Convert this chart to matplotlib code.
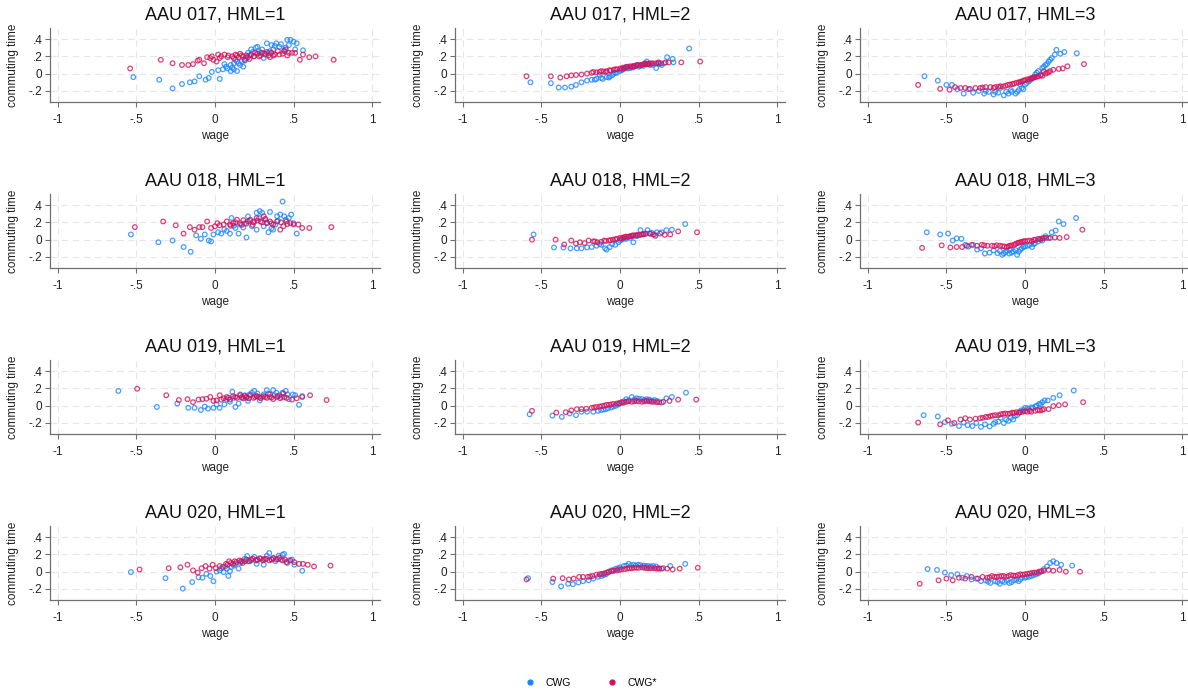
import numpy as np
import matplotlib.pyplot as plt
from matplotlib.lines import Line2D

plt.rcParams['font.family'] = ['Liberation Sans', 'DejaVu Sans']

# (wage, commuting time) pairs for each AAU / HML cell
aau017_h1_cwg = [(-0.52, -0.04), (-0.355, -0.07), (-0.27, -0.17), (-0.21, -0.12), (-0.16, -0.10), (-0.13, -0.09),
                 (-0.10, -0.03), (-0.06, -0.07), (-0.04, -0.05), (-0.02, 0.02), (0.02, 0.04), (0.03, -0.06),
                 (0.05, 0.05), (0.07, 0.08), (0.10, 0.10), (0.10, 0.03), (0.12, 0.05), (0.12, 0.12), (0.14, 0.03),
                 (0.14, 0.14), (0.16, 0.10), (0.17, 0.14), (0.18, 0.08), (0.20, 0.18), (0.21, 0.24), (0.23, 0.28),
                 (0.245, 0.20), (0.26, 0.30), (0.27, 0.31), (0.28, 0.26), (0.29, 0.24), (0.31, 0.18), (0.33, 0.35),
                 (0.34, 0.24), (0.36, 0.33), (0.37, 0.28), (0.39, 0.35), (0.41, 0.31), (0.44, 0.27), (0.45, 0.30),
                 (0.46, 0.39), (0.48, 0.39), (0.50, 0.37), (0.51, 0.28), (0.52, 0.35), (0.56, 0.27),
                 (0.08, 0.06), (0.11, 0.07), (0.15, 0.12), (0.19, 0.15), (0.22, 0.21), (0.24, 0.25), (0.30, 0.28),
                 (0.32, 0.22), (0.35, 0.26), (0.38, 0.32), (0.42, 0.34), (0.47, 0.33), (0.06, 0.11), (0.13, 0.16)]
aau017_h1_star = [(-0.54, 0.06), (-0.345, 0.16), (-0.27, 0.12), (-0.21, 0.10), (-0.17, 0.10), (-0.14, 0.11),
                  (-0.11, 0.15), (-0.10, 0.16), (-0.07, 0.12), (-0.05, 0.19), (-0.03, 0.18), (-0.01, 0.16),
                  (0.01, 0.14), (0.02, 0.22), (0.04, 0.20), (0.06, 0.22), (0.085, 0.21), (0.11, 0.20), (0.13, 0.22),
                  (0.15, 0.19), (0.17, 0.21), (0.19, 0.16), (0.21, 0.19), (0.23, 0.22), (0.255, 0.24), (0.28, 0.20),
                  (0.30, 0.24), (0.32, 0.23), (0.34, 0.21), (0.36, 0.24), (0.38, 0.22), (0.40, 0.26), (0.43, 0.23),
                  (0.45, 0.28), (0.47, 0.24), (0.49, 0.24), (0.51, 0.24), (0.54, 0.16), (0.56, 0.22), (0.60, 0.19),
                  (0.64, 0.20), (0.755, 0.16),
                  (0.08, 0.19), (0.12, 0.18), (0.16, 0.23), (0.20, 0.21), (0.22, 0.17), (0.25, 0.20), (0.27, 0.23),
                  (0.29, 0.21), (0.33, 0.25), (0.35, 0.19), (0.37, 0.21), (0.41, 0.22), (0.44, 0.26), (0.46, 0.21),
                  (0.03, 0.18), (-0.02, 0.20), (0.14, 0.21), (0.18, 0.20)]

aau017_h2_cwg = [(-0.57, -0.10), (-0.44, -0.11), (-0.39, -0.16), (-0.35, -0.16), (-0.31, -0.15), (-0.28, -0.13),
                 (-0.245, -0.10), (-0.21, -0.08), (-0.18, -0.07), (-0.15, -0.06), (-0.13, -0.01), (-0.12, -0.05),
                 (-0.085, -0.04), (-0.065, -0.03), (-0.04, 0.0), (-0.02, 0.01), (0.0, 0.03), (0.02, 0.05),
                 (0.04, 0.08), (0.065, 0.065), (0.085, 0.08), (0.105, 0.10), (0.13, 0.09), (0.16, 0.12),
                 (0.17, 0.14), (0.19, 0.10), (0.23, 0.065), (0.245, 0.12), (0.265, 0.10), (0.30, 0.19),
                 (0.335, 0.17), (0.34, 0.13), (0.44, 0.29),
                 (-0.16, -0.07), (-0.11, -0.06), (-0.07, -0.045), (-0.05, -0.02), (-0.03, 0.01), (0.01, 0.04),
                 (0.03, 0.06), (0.05, 0.06), (0.08, 0.07), (0.12, 0.08), (0.15, 0.09), (0.18, 0.11), (0.21, 0.10),
                 (0.25, 0.11), (0.28, 0.12)]
aau017_h2_star = [(-0.595, -0.03), (-0.44, -0.03), (-0.38, -0.045), (-0.34, -0.03), (-0.31, -0.02), (-0.28, -0.015),
                  (-0.245, -0.01), (-0.21, 0.0), (-0.18, 0.01), (-0.15, 0.015), (-0.13, 0.02), (-0.105, 0.025),
                  (-0.085, 0.03), (-0.065, 0.04), (-0.04, 0.045), (-0.02, 0.05), (0.0, 0.06), (0.02, 0.07),
                  (0.04, 0.075), (0.065, 0.085), (0.085, 0.09), (0.105, 0.095), (0.13, 0.10), (0.15, 0.11),
                  (0.17, 0.115), (0.19, 0.12), (0.21, 0.12), (0.245, 0.13), (0.29, 0.13), (0.31, 0.13),
                  (0.39, 0.13), (0.51, 0.14),
                  (-0.17, 0.02), (-0.12, 0.03), (-0.09, 0.02), (-0.06, 0.035), (-0.03, 0.05), (0.01, 0.055),
                  (0.03, 0.065), (0.05, 0.08), (0.075, 0.08), (0.095, 0.085), (0.115, 0.10), (0.14, 0.10),
                  (0.16, 0.11), (0.18, 0.11), (0.20, 0.115), (0.23, 0.12), (0.26, 0.12)]

aau017_h3_cwg = [(-0.64, -0.03), (-0.555, -0.08), (-0.50, -0.13), (-0.465, -0.13), (-0.43, -0.18), (-0.39, -0.23),
                 (-0.36, -0.18), (-0.33, -0.22), (-0.295, -0.20), (-0.26, -0.23), (-0.23, -0.21), (-0.20, -0.24),
                 (-0.17, -0.22), (-0.16, -0.165), (-0.135, -0.25), (-0.105, -0.23), (-0.085, -0.21), (-0.06, -0.23),
                 (-0.04, -0.19), (-0.03, -0.125), (-0.02, -0.165), (-0.01, -0.18), (0.0, -0.125), (0.025, -0.09),
                 (0.045, -0.06), (0.065, -0.01), (0.085, 0.03), (0.10, -0.01), (0.11, 0.065), (0.13, 0.10),
                 (0.15, 0.14), (0.17, 0.18), (0.19, 0.22), (0.20, 0.275), (0.225, 0.23), (0.25, 0.25), (0.33, 0.235),
                 (-0.25, -0.20), (-0.19, -0.21), (-0.12, -0.21), (-0.09, -0.19), (-0.05, -0.21), (0.01, -0.11),
                 (0.035, -0.07), (0.055, -0.04), (0.075, 0.01), (0.12, 0.08), (0.14, 0.11), (0.16, 0.16)]
aau017_h3_star = [(-0.68, -0.13), (-0.54, -0.175), (-0.48, -0.185), (-0.445, -0.155), (-0.41, -0.165),
                  (-0.38, -0.165), (-0.35, -0.175), (-0.315, -0.165), (-0.285, -0.165), (-0.25, -0.155),
                  (-0.22, -0.155), (-0.19, -0.155), (-0.155, -0.145), (-0.125, -0.14), (-0.095, -0.125),
                  (-0.07, -0.115), (-0.04, -0.10), (-0.02, -0.09), (0.0, -0.075), (0.025, -0.07), (0.045, -0.05),
                  (0.065, -0.04), (0.085, -0.03), (0.11, -0.025), (0.12, 0.025), (0.13, 0.0), (0.15, 0.015),
                  (0.18, 0.045), (0.215, 0.055), (0.24, 0.06), (0.27, 0.085), (0.375, 0.11),
                  (-0.27, -0.16), (-0.20, -0.165), (-0.17, -0.15), (-0.14, -0.15), (-0.11, -0.13), (-0.08, -0.12),
                  (-0.055, -0.105), (-0.03, -0.095), (-0.01, -0.08), (0.015, -0.065), (0.035, -0.055),
                  (0.055, -0.045), (0.075, -0.035), (0.10, -0.02), (0.14, 0.01), (0.16, 0.03)]

aau018_h1_cwg = [(-0.535, 0.06), (-0.36, -0.03), (-0.27, -0.01), (-0.20, -0.085), (-0.155, -0.14), (-0.12, 0.05),
                 (-0.09, 0.01), (-0.065, 0.06), (-0.04, -0.01), (-0.025, -0.02), (-0.01, 0.06), (0.02, 0.085),
                 (0.04, 0.07), (0.075, 0.10), (0.095, 0.07), (0.105, 0.25), (0.13, 0.135), (0.15, 0.07),
                 (0.16, 0.175), (0.19, 0.19), (0.20, 0.025), (0.21, 0.27), (0.235, 0.155), (0.25, 0.21),
                 (0.265, 0.115), (0.265, 0.31), (0.285, 0.33), (0.30, 0.31), (0.31, 0.155), (0.32, 0.23),
                 (0.34, 0.085), (0.35, 0.32), (0.37, 0.115), (0.385, 0.175), (0.395, 0.27), (0.415, 0.29),
                 (0.43, 0.44), (0.45, 0.23), (0.47, 0.25), (0.485, 0.29), (0.50, 0.19), (0.52, 0.07),
                 (0.06, 0.12), (0.12, 0.16), (0.18, 0.14), (0.22, 0.22), (0.28, 0.25), (0.33, 0.20), (0.36, 0.13),
                 (0.40, 0.22), (0.44, 0.27)]
aau018_h1_star = [(-0.51, 0.145), (-0.33, 0.21), (-0.25, 0.165), (-0.20, 0.07), (-0.16, 0.145), (-0.13, 0.115),
                  (-0.10, 0.145), (-0.08, 0.145), (-0.05, 0.21), (-0.025, 0.135), (0.0, 0.155), (0.015, 0.19),
                  (0.03, 0.165), (0.055, 0.175), (0.075, 0.21), (0.095, 0.175), (0.115, 0.19), (0.14, 0.23),
                  (0.16, 0.19), (0.18, 0.225), (0.20, 0.185), (0.225, 0.23), (0.245, 0.20), (0.265, 0.25),
                  (0.29, 0.21), (0.31, 0.27), (0.33, 0.19), (0.35, 0.21), (0.37, 0.175), (0.395, 0.21),
                  (0.415, 0.115), (0.435, 0.155), (0.455, 0.21), (0.48, 0.19), (0.50, 0.175), (0.53, 0.175),
                  (0.555, 0.135), (0.60, 0.135), (0.74, 0.145),
                  (0.10, 0.16), (0.13, 0.20), (0.17, 0.17), (0.21, 0.21), (0.24, 0.17), (0.27, 0.22), (0.30, 0.20),
                  (0.32, 0.24), (0.36, 0.19), (0.42, 0.20), (0.46, 0.18)]

aau018_h2_cwg = [(-0.55, 0.06), (-0.42, -0.09), (-0.36, -0.09), (-0.315, -0.10), (-0.275, -0.10), (-0.245, -0.10),
                 (-0.21, -0.09), (-0.18, -0.085), (-0.15, -0.07), (-0.12, -0.06), (-0.095, -0.10), (-0.085, -0.115),
                 (-0.065, -0.085), (-0.03, -0.06), (-0.01, -0.03), (0.01, 0.0), (0.04, 0.01), (0.065, 0.02),
                 (0.085, -0.03), (0.105, 0.04), (0.13, 0.11), (0.16, 0.07), (0.175, 0.11), (0.20, 0.08),
                 (0.235, 0.085), (0.265, 0.085), (0.295, 0.11), (0.33, 0.115), (0.415, 0.18),
                 (-0.13, -0.05), (-0.05, -0.05), (0.0, -0.01), (0.025, 0.01), (0.05, 0.03), (0.08, 0.04),
                 (0.12, 0.05), (0.15, 0.06), (0.19, 0.07), (0.22, 0.06)]
aau018_h2_star = [(-0.56, 0.0), (-0.41, 0.0), (-0.355, -0.055), (-0.31, -0.01), (-0.28, -0.045), (-0.255, -0.03),
                  (-0.225, -0.04), (-0.20, -0.01), (-0.17, -0.02), (-0.145, -0.03), (-0.12, -0.025), (-0.09, -0.015),
                  (-0.07, -0.01), (-0.045, 0.0), (-0.02, 0.01), (0.0, 0.02), (0.02, 0.025), (0.04, 0.035),
                  (0.065, 0.04), (0.085, 0.05), (0.11, 0.055), (0.14, 0.06), (0.165, 0.07), (0.19, 0.07),
                  (0.225, 0.045), (0.255, 0.07), (0.285, 0.055), (0.32, 0.06), (0.37, 0.095), (0.49, 0.085),
                  (-0.16, -0.02), (-0.10, -0.01), (-0.06, -0.005), (-0.03, 0.005), (0.01, 0.015), (0.03, 0.03),
                  (0.055, 0.035), (0.075, 0.045), (0.10, 0.05), (0.125, 0.055), (0.15, 0.065), (0.21, 0.06)]

aau018_h3_cwg = [(-0.625, 0.085), (-0.54, 0.06), (-0.49, 0.07), (-0.46, -0.01), (-0.435, 0.015), (-0.405, 0.01),
                 (-0.38, -0.06), (-0.36, -0.08), (-0.33, -0.06), (-0.305, -0.115), (-0.28, -0.10), (-0.255, -0.16),
                 (-0.225, -0.15), (-0.20, -0.125), (-0.175, -0.155), (-0.145, -0.175), (-0.125, -0.145),
                 (-0.10, -0.16), (-0.095, -0.115), (-0.075, -0.135), (-0.05, -0.175), (-0.03, -0.115),
                 (-0.01, -0.085), (0.015, -0.07), (0.045, -0.085), (0.065, -0.04), (0.085, -0.02), (0.11, -0.01),
                 (0.13, 0.04), (0.15, 0.02), (0.17, 0.085), (0.195, 0.105), (0.215, 0.21), (0.245, 0.18),
                 (0.325, 0.25),
                 (-0.16, -0.13), (-0.135, -0.16), (-0.115, -0.13), (-0.085, -0.15), (-0.06, -0.12),
                 (-0.04, -0.14), (-0.02, -0.10), (0.0, -0.08), (0.03, -0.06), (0.055, -0.05), (0.10, 0.0)]
aau018_h3_star = [(-0.655, -0.095), (-0.53, -0.065), (-0.475, -0.09), (-0.435, -0.085), (-0.40, -0.085),
                  (-0.37, -0.07), (-0.34, -0.06), (-0.305, -0.07), (-0.275, -0.06), (-0.24, -0.07), (-0.21, -0.07),
                  (-0.18, -0.065), (-0.145, -0.075), (-0.115, -0.085), (-0.095, -0.07), (-0.07, -0.06),
                  (-0.05, -0.04), (-0.03, -0.03), (-0.01, -0.02), (0.015, -0.015), (0.045, -0.02), (0.065, 0.0),
                  (0.085, 0.01), (0.11, 0.015), (0.135, 0.02), (0.16, 0.02), (0.19, 0.025), (0.22, 0.02),
                  (0.265, 0.03), (0.365, 0.115),
                  (-0.26, -0.065), (-0.195, -0.075), (-0.16, -0.07), (-0.13, -0.08), (-0.105, -0.075),
                  (-0.085, -0.065), (-0.06, -0.05), (-0.04, -0.035), (-0.02, -0.025), (0.0, -0.015), (0.03, -0.01),
                  (0.055, -0.005), (0.095, 0.005), (0.12, 0.02)]

aau019_h1_cwg = [(-0.615, 0.17), (-0.37, -0.015), (-0.24, 0.025), (-0.17, -0.025), (-0.13, -0.025), (-0.09, -0.05),
                 (-0.065, -0.01), (-0.045, -0.035), (-0.01, -0.025), (0.01, 0.015), (0.03, -0.025), (0.06, 0.015),
                 (0.075, 0.07), (0.095, 0.045), (0.11, 0.16), (0.13, -0.015), (0.15, 0.025), (0.17, 0.09),
                 (0.19, 0.12), (0.21, 0.055), (0.235, 0.15), (0.25, 0.17), (0.265, 0.11), (0.285, 0.06),
                 (0.31, 0.13), (0.33, 0.18), (0.35, 0.10), (0.37, 0.18), (0.39, 0.15), (0.41, 0.12), (0.43, 0.15),
                 (0.45, 0.17), (0.47, 0.075), (0.495, 0.13), (0.51, 0.12), (0.535, 0.01), (0.555, 0.11),
                 (0.12, 0.09), (0.16, 0.13), (0.20, 0.09), (0.22, 0.13), (0.27, 0.14), (0.30, 0.10), (0.34, 0.14),
                 (0.38, 0.12), (0.42, 0.10), (0.46, 0.13)]
aau019_h1_star = [(-0.495, 0.195), (-0.31, 0.12), (-0.23, 0.065), (-0.175, 0.075), (-0.14, 0.04), (-0.105, 0.07),
                  (-0.08, 0.075), (-0.055, 0.08), (-0.03, 0.10), (-0.01, 0.055), (0.01, 0.06), (0.03, 0.12),
                  (0.055, 0.085), (0.075, 0.10), (0.095, 0.07), (0.115, 0.11), (0.14, 0.09), (0.16, 0.12),
                  (0.18, 0.085), (0.20, 0.10), (0.225, 0.12), (0.245, 0.09), (0.265, 0.11), (0.29, 0.085),
                  (0.31, 0.11), (0.33, 0.09), (0.35, 0.13), (0.37, 0.075), (0.395, 0.10), (0.415, 0.085),
                  (0.435, 0.14), (0.455, 0.09), (0.49, 0.07), (0.52, 0.085), (0.555, 0.10), (0.605, 0.12),
                  (0.71, 0.065),
                  (0.04, 0.07), (0.085, 0.09), (0.13, 0.10), (0.17, 0.10), (0.19, 0.11), (0.215, 0.085),
                  (0.255, 0.10), (0.28, 0.10), (0.32, 0.10), (0.36, 0.095), (0.40, 0.11), (0.44, 0.10)]

aau019_h2_cwg = [(-0.575, -0.10), (-0.43, -0.115), (-0.37, -0.13), (-0.32, -0.09), (-0.28, -0.11), (-0.245, -0.07),
                 (-0.21, -0.07), (-0.17, -0.07), (-0.14, -0.06), (-0.105, -0.045), (-0.075, -0.03), (-0.04, -0.01),
                 (-0.01, 0.015), (0.015, 0.035), (0.04, 0.075), (0.075, 0.10), (0.105, 0.085), (0.14, 0.075),
                 (0.17, 0.075), (0.20, 0.06), (0.235, 0.055), (0.265, 0.035), (0.295, 0.085), (0.33, 0.10),
                 (0.42, 0.15),
                 (-0.12, -0.05), (-0.09, -0.04), (-0.055, -0.02), (-0.025, 0.0), (0.0, 0.025), (0.025, 0.05),
                 (0.055, 0.06), (0.09, 0.07), (0.12, 0.08), (0.155, 0.065), (0.185, 0.07), (0.22, 0.065)]
aau019_h2_star = [(-0.56, -0.06), (-0.405, -0.08), (-0.345, -0.075), (-0.31, -0.055), (-0.275, -0.04),
                  (-0.245, -0.04), (-0.215, -0.035), (-0.18, -0.025), (-0.15, -0.015), (-0.115, -0.005),
                  (-0.085, 0.01), (-0.055, 0.015), (-0.02, 0.025), (0.01, 0.04), (0.04, 0.045), (0.075, 0.045),
                  (0.105, 0.055), (0.14, 0.045), (0.17, 0.055), (0.20, 0.045), (0.235, 0.04), (0.275, 0.045),
                  (0.315, 0.055), (0.37, 0.07), (0.485, 0.07),
                  (-0.165, -0.02), (-0.13, -0.01), (-0.10, 0.0), (-0.07, 0.01), (-0.04, 0.02), (-0.005, 0.03),
                  (0.025, 0.035), (0.055, 0.05), (0.09, 0.05), (0.12, 0.05), (0.155, 0.05), (0.185, 0.05),
                  (0.215, 0.045), (0.25, 0.04)]

aau019_h3_cwg = [(-0.645, -0.11), (-0.555, -0.125), (-0.51, -0.19), (-0.465, -0.21), (-0.42, -0.235), (-0.39, -0.195),
                 (-0.365, -0.225), (-0.335, -0.235), (-0.31, -0.20), (-0.28, -0.245), (-0.255, -0.215),
                 (-0.225, -0.24), (-0.20, -0.21), (-0.17, -0.185), (-0.155, -0.14), (-0.135, -0.20),
                 (-0.105, -0.175), (-0.075, -0.16), (-0.05, -0.11), (-0.025, -0.055), (0.0, -0.025),
                 (0.025, -0.04), (0.05, -0.025), (0.075, 0.0), (0.10, 0.015), (0.125, 0.06), (0.145, 0.06),
                 (0.18, 0.09), (0.22, 0.12), (0.31, 0.175),
                 (-0.19, -0.19), (-0.12, -0.16), (-0.09, -0.14), (-0.065, -0.12), (-0.035, -0.08), (-0.01, -0.05),
                 (0.015, -0.03), (0.04, -0.02), (0.065, -0.01), (0.09, 0.02), (0.11, 0.04)]
aau019_h3_star = [(-0.68, -0.195), (-0.54, -0.215), (-0.49, -0.17), (-0.45, -0.20), (-0.41, -0.16), (-0.38, -0.145),
                  (-0.35, -0.16), (-0.315, -0.15), (-0.285, -0.145), (-0.25, -0.13), (-0.22, -0.12), (-0.19, -0.11),
                  (-0.155, -0.10), (-0.125, -0.09), (-0.095, -0.09), (-0.07, -0.085), (-0.04, -0.08),
                  (-0.015, -0.07), (0.015, -0.07), (0.04, -0.07), (0.065, -0.06), (0.095, -0.055), (0.12, -0.04),
                  (0.15, -0.04), (0.18, -0.005), (0.215, 0.005), (0.255, 0.015), (0.37, 0.04),
                  (-0.27, -0.14), (-0.235, -0.13), (-0.205, -0.115), (-0.17, -0.11), (-0.14, -0.095),
                  (-0.11, -0.095), (-0.08, -0.08), (-0.055, -0.075), (-0.03, -0.075), (0.0, -0.065),
                  (0.03, -0.06), (0.08, -0.05), (0.11, -0.05)]

aau020_h1_cwg = [(-0.535, -0.005), (-0.315, -0.075), (-0.205, -0.195), (-0.145, -0.12), (-0.105, -0.065),
                 (-0.08, -0.07), (-0.055, -0.025), (-0.03, -0.05), (-0.01, -0.11), (0.01, 0.0), (0.03, 0.015),
                 (0.055, -0.005), (0.075, 0.035), (0.085, -0.05), (0.095, 0.005), (0.105, 0.055), (0.13, 0.09),
                 (0.15, 0.035), (0.17, 0.12), (0.19, 0.15), (0.205, 0.18), (0.23, 0.13), (0.25, 0.17),
                 (0.265, 0.09), (0.29, 0.15), (0.31, 0.08), (0.33, 0.185), (0.345, 0.215), (0.36, 0.14),
                 (0.385, 0.12), (0.405, 0.185), (0.43, 0.195), (0.44, 0.205), (0.46, 0.10), (0.49, 0.14),
                 (0.505, 0.08), (0.555, 0.01),
                 (0.04, 0.04), (0.065, 0.06), (0.12, 0.07), (0.16, 0.10), (0.21, 0.12), (0.27, 0.13),
                 (0.32, 0.14), (0.37, 0.16), (0.42, 0.14), (0.47, 0.13)]
aau020_h1_star = [(-0.48, 0.025), (-0.295, 0.04), (-0.22, 0.05), (-0.175, 0.08), (-0.14, 0.015), (-0.11, -0.01),
                  (-0.085, 0.04), (-0.06, 0.065), (-0.035, 0.035), (-0.015, 0.08), (0.005, 0.04), (0.03, 0.065),
                  (0.05, 0.055), (0.07, 0.09), (0.09, 0.12), (0.115, 0.09), (0.135, 0.11), (0.155, 0.13),
                  (0.175, 0.10), (0.20, 0.14), (0.22, 0.12), (0.24, 0.15), (0.26, 0.13), (0.285, 0.155),
                  (0.305, 0.13), (0.325, 0.15), (0.345, 0.13), (0.37, 0.155), (0.39, 0.14), (0.41, 0.16),
                  (0.43, 0.13), (0.455, 0.11), (0.48, 0.13), (0.505, 0.11), (0.535, 0.09), (0.56, 0.09),
                  (0.59, 0.08), (0.63, 0.06), (0.735, 0.07),
                  (0.08, 0.08), (0.10, 0.10), (0.125, 0.12), (0.165, 0.12), (0.19, 0.12), (0.23, 0.14),
                  (0.27, 0.14), (0.31, 0.145), (0.36, 0.14), (0.40, 0.145), (0.445, 0.14)]

aau020_h2_cwg = [(-0.585, -0.075), (-0.43, -0.12), (-0.375, -0.17), (-0.33, -0.14), (-0.30, -0.145),
                 (-0.265, -0.125), (-0.235, -0.11), (-0.20, -0.10), (-0.17, -0.08), (-0.14, -0.06),
                 (-0.105, -0.04), (-0.075, -0.01), (-0.055, 0.015), (-0.025, 0.035), (0.0, 0.05), (0.025, 0.065),
                 (0.055, 0.09), (0.085, 0.08), (0.115, 0.08), (0.15, 0.07), (0.18, 0.065), (0.21, 0.065),
                 (0.245, 0.04), (0.275, 0.04), (0.32, 0.065), (0.415, 0.09),
                 (-0.12, -0.05), (-0.09, -0.03), (-0.04, 0.02), (-0.01, 0.04), (0.04, 0.07), (0.07, 0.07),
                 (0.10, 0.07), (0.13, 0.075), (0.165, 0.065), (0.195, 0.06), (0.23, 0.06)]
aau020_h2_star = [(-0.595, -0.09), (-0.425, -0.08), (-0.365, -0.075), (-0.325, -0.09), (-0.295, -0.08),
                  (-0.26, -0.06), (-0.235, -0.06), (-0.205, -0.06), (-0.175, -0.05), (-0.15, -0.035),
                  (-0.115, -0.025), (-0.085, -0.01), (-0.055, 0.005), (-0.02, 0.015), (0.01, 0.025),
                  (0.045, 0.035), (0.075, 0.04), (0.105, 0.045), (0.14, 0.05), (0.17, 0.04), (0.20, 0.04),
                  (0.235, 0.035), (0.265, 0.035), (0.30, 0.035), (0.335, 0.025), (0.38, 0.035), (0.495, 0.045),
                  (-0.19, -0.055), (-0.13, -0.03), (-0.10, -0.02), (-0.07, 0.0), (-0.04, 0.01), (-0.005, 0.02),
                  (0.03, 0.03), (0.06, 0.04), (0.09, 0.045), (0.12, 0.045), (0.155, 0.045), (0.185, 0.04),
                  (0.22, 0.04), (0.25, 0.035)]

aau020_h3_cwg = [(-0.62, 0.03), (-0.56, 0.02), (-0.51, -0.01), (-0.47, -0.04), (-0.43, -0.03), (-0.40, -0.07),
                 (-0.37, -0.05), (-0.34, -0.09), (-0.31, -0.08), (-0.28, -0.11), (-0.25, -0.10), (-0.22, -0.13),
                 (-0.19, -0.11), (-0.16, -0.14), (-0.13, -0.12), (-0.10, -0.13), (-0.07, -0.10), (-0.04, -0.11),
                 (-0.02, -0.07), (0.01, -0.06), (0.04, -0.05), (0.07, -0.03), (0.10, 0.0), (0.12, 0.03),
                 (0.14, 0.06), (0.16, 0.10), (0.18, 0.12), (0.20, 0.10), (0.23, 0.08), (0.30, 0.07),
                 (-0.235, -0.115), (-0.175, -0.12), (-0.145, -0.11), (-0.115, -0.10), (-0.085, -0.12),
                 (-0.055, -0.09), (-0.03, -0.09), (0.0, -0.07), (0.025, -0.06), (0.055, -0.04), (0.085, -0.02)]
aau020_h3_star = [(-0.67, -0.14), (-0.55, -0.10), (-0.50, -0.08), (-0.46, -0.10), (-0.42, -0.07), (-0.38, -0.08),
                  (-0.34, -0.06), (-0.30, -0.08), (-0.27, -0.06), (-0.24, -0.07), (-0.21, -0.05), (-0.18, -0.06),
                  (-0.15, -0.05), (-0.12, -0.06), (-0.09, -0.04), (-0.06, -0.05), (-0.03, -0.03), (0.0, -0.03),
                  (0.03, -0.02), (0.06, -0.01), (0.09, 0.0), (0.12, 0.01), (0.15, 0.02), (0.18, 0.01),
                  (0.22, 0.02), (0.26, 0.0), (0.35, 0.0),
                  (-0.225, -0.065), (-0.195, -0.06), (-0.165, -0.055), (-0.135, -0.05), (-0.105, -0.05),
                  (-0.075, -0.045), (-0.045, -0.04), (-0.015, -0.035), (0.015, -0.025), (0.045, -0.015),
                  (0.075, -0.01), (0.105, 0.005)]

panels = [
    ("AAU 017, HML=1", aau017_h1_cwg, aau017_h1_star),
    ("AAU 017, HML=2", aau017_h2_cwg, aau017_h2_star),
    ("AAU 017, HML=3", aau017_h3_cwg, aau017_h3_star),
    ("AAU 018, HML=1", aau018_h1_cwg, aau018_h1_star),
    ("AAU 018, HML=2", aau018_h2_cwg, aau018_h2_star),
    ("AAU 018, HML=3", aau018_h3_cwg, aau018_h3_star),
    ("AAU 019, HML=1", aau019_h1_cwg, aau019_h1_star),
    ("AAU 019, HML=2", aau019_h2_cwg, aau019_h2_star),
    ("AAU 019, HML=3", aau019_h3_cwg, aau019_h3_star),
    ("AAU 020, HML=1", aau020_h1_cwg, aau020_h1_star),
    ("AAU 020, HML=2", aau020_h2_cwg, aau020_h2_star),
    ("AAU 020, HML=3", aau020_h3_cwg, aau020_h3_star),
]

x_ticks = [-1, -0.5, 0, 0.5, 1]
x_ticklabels = ["-1", "-.5", "0", ".5", "1"]
y_ticks = [-0.2, 0, 0.2, 0.4]
y_ticklabels = ["-.2", "0", ".2", ".4"]

blue = '#1a85ff'
red = '#d41159'

W, H = 1188, 691
fig = plt.figure(figsize=(W / 100, H / 100), dpi=100)

col_left = [50, 455, 860]
ax_w, ax_h = 330, 74
row_top0, row_step = 28, 166

for i, (title, cwg, star) in enumerate(panels):
    r, c = divmod(i, 3)
    top = row_top0 + r * row_step
    ax = fig.add_axes([col_left[c] / W, 1 - (top + ax_h) / H, ax_w / W, ax_h / H])
    cwg = np.array(cwg)
    star = np.array(star)
    ax.scatter(cwg[:, 0], cwg[:, 1], s=11, facecolors='none', edgecolors=blue, linewidths=0.9, alpha=0.8, zorder=3)
    ax.scatter(star[:, 0], star[:, 1], s=11, facecolors='none', edgecolors=red, linewidths=0.9, alpha=0.8, zorder=4)
    ax.set_xlim(-1.05, 1.05)
    ax.set_ylim(-0.327, 0.527)
    ax.set_xticks(x_ticks)
    ax.set_xticklabels(x_ticklabels)
    ax.set_yticks(y_ticks)
    ax.set_yticklabels(y_ticklabels)
    ax.grid(True, color='#e6e6e6', linestyle=(0, (6, 4)), linewidth=0.8, zorder=0)
    ax.set_axisbelow(True)
    for side in ['top', 'right']:
        ax.spines[side].set_visible(False)
    for side in ['left', 'bottom']:
        ax.spines[side].set_color('#707070')
        ax.spines[side].set_linewidth(0.9)
    ax.tick_params(direction='out', length=3.5, width=0.8, color='#707070', labelsize=8.5,
                   labelcolor='#222222')
    ax.tick_params(axis='x', pad=5)
    ax.tick_params(axis='y', pad=2)
    ax.set_title(title, fontsize=13, pad=6, color='#111111')
    ax.set_xlabel("wage", fontsize=8.5, labelpad=3, color='#222222')
    ax.set_ylabel("commuting time", fontsize=8.5, labelpad=7, color='#222222')

handles = [Line2D([], [], marker='o', linestyle='none', color=blue, markersize=3.5),
           Line2D([], [], marker='o', linestyle='none', color=red, markersize=3.5)]
fig.legend(handles, ["CWG", "CWG*"], loc='center', bbox_to_anchor=(591 / W, 1 - 683 / H), ncol=2,
           frameon=False, fontsize=7.5, handlelength=1.0, handletextpad=1.0, columnspacing=3.4)

fig.savefig('out.png', dpi=100)
